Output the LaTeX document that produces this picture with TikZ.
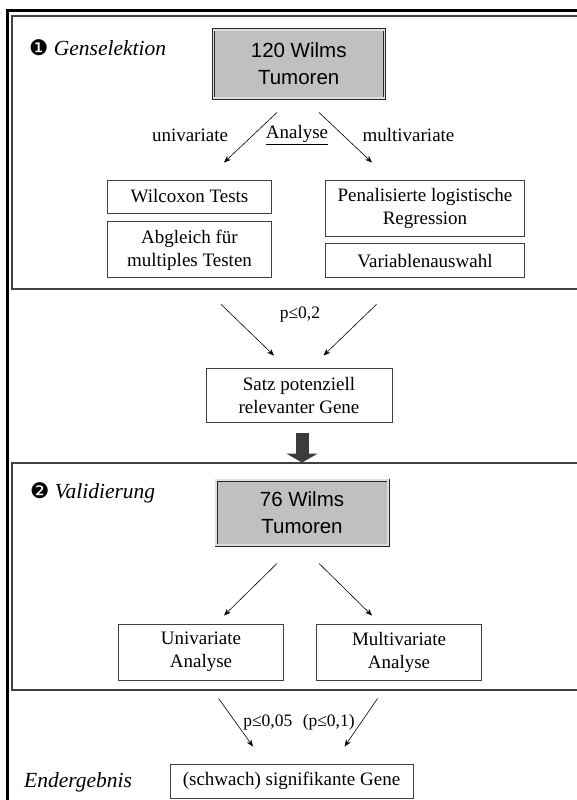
\documentclass[tikz,border=0pt]{standalone}
\usepackage{fontspec}
\setmainfont{Liberation Serif}
\setsansfont{Liberation Sans}
\newfontfamily\dingfont{DejaVu Sans}
\usetikzlibrary{arrows.meta,positioning,calc}
\definecolor{boxGray}{HTML}{C0C0C0}
\definecolor{lineGray}{HTML}{404040}
\definecolor{arrowGray}{HTML}{3C3C3C}

\begin{document}
\begin{tikzpicture}[x=1pt, y=-1pt,
    txt/.style={font=\fontsize{19}{23}\selectfont, inner sep=0pt},
    n/.style={draw=lineGray, line width=0.9pt, align=center, font=\fontsize{19}{23}\selectfont, inner sep=2pt},
    tumor/.style={draw=black!85, line width=0.9pt, double=gray!25, double distance=1.2pt, fill=boxGray,
      minimum width=171pt, align=center, font=\sffamily\fontsize{20.5}{27}\selectfont},
    phase/.style={anchor=west, inner sep=0pt, font=\itshape\fontsize{21.5}{25}\selectfont},
    plab/.style={inner sep=0pt, font=\fontsize{17.5}{20}\selectfont},
    frame/.style={draw=lineGray, line width=1.1pt},
    arr/.style={-{Stealth[length=7pt, width=5.5pt]}, line width=0.6pt}
  ]
    \useasboundingbox (0,0) rectangle (577,800);
    \clip (0,0) rectangle (577,800);
    % frames
    \draw[line width=3pt] (7,800) -- (7,11) -- (590,11);
    \draw[frame] (12,16) rectangle (590,289);
    \draw[frame] (12,463) rectangle (590,690);

    % phase 1
    \node[phase] (L1) at (29,48) {{\dingfont\upshape ❶} Genselektion};
    \node[tumor, minimum height=68pt] (G1) at (298.7,64) {120 Wilms\\Tumoren};
    \node[txt] (uni) at (190,135) {univariate};
    \node[txt] (ana) at (297,135) {\underline{Analyse}};
    \node[txt] (mul) at (408.5,135) {multivariate};
    \node[n, minimum width=164.5pt, minimum height=33pt] (W) at (189.5,196.5) {Wilcoxon Tests};
    \node[n, minimum width=164.5pt, minimum height=56pt, below=8pt of W] (A) {Abgleich für\\multiples Testen};
    \node[n, minimum width=199pt, minimum height=56pt] (P) at (425,208) {Penalisierte logistische\\Regression};
    \node[n, minimum width=199pt, minimum height=34pt, below=7pt of P] (V) {Variablenauswahl};
    \draw[arr] ($(G1.south)+(-21.7,14)$) -- ($(W.north)+(34.5,-17)$);
    \draw[arr] ($(G1.south)+(20.3,14)$) -- ($(P.north)+(-53,-17)$);

    % candidate set
    \node[n, minimum width=186pt, minimum height=54pt] (S) at (299,395) {Satz potenziell\\relevanter Gene};
    \node[plab] (p1) at (300,315) {p≤0,2};
    \draw[arr] ($(A.south)+(31.5,26)$) -- ($(S.north)+(-25,-12)$);
    \draw[arr] ($(V.south)+(-48.5,26)$) -- ($(S.north)+(24.5,-12)$);

    % phase 2
    \node[tumor, minimum width=172pt, minimum height=65pt] (G2) at (302,512.5) {76 Wilms\\Tumoren};
    \draw[-{Triangle[length=9pt, width=31pt]}, line width=13pt, arrowGray]
      ($(S.south)+(3,11)$) -- ($(G2.north)+(0,-17)$);
    \node[phase] (L2) at (30,493) {{\dingfont\upshape ❷} Validierung};
    \node[n, minimum width=165.5pt, minimum height=56pt] (U) at (201,652) {Univariate\\Analyse};
    \node[n, minimum width=164.5pt, minimum height=56pt] (M) at (399,652) {Multivariate\\Analyse};
    \draw[arr] ($(G2.south)+(-25,18)$) -- ($(U.north)+(23,-8)$);
    \draw[arr] ($(G2.south)+(17,18)$) -- ($(M.north)+(-27,-8)$);

    % result
    \node[phase] (L3) at (24,782) {Endergebnis};
    \node[n, minimum width=243pt, minimum height=34pt] (E) at (291.5,781) {(schwach) signifikante Gene};
    \node[plab] (p2) at (299,722) {p≤0,05\hspace{0.6em}(p≤0,1)};
    \draw[arr] ($(U.south)+(17.6,18)$) -- ($(E.north)+(-38.5,-17)$);
    \draw[arr] ($(M.south)+(-21.4,18)$) -- ($(E.north)+(53,-17)$);
  \end{tikzpicture}
\end{document}
